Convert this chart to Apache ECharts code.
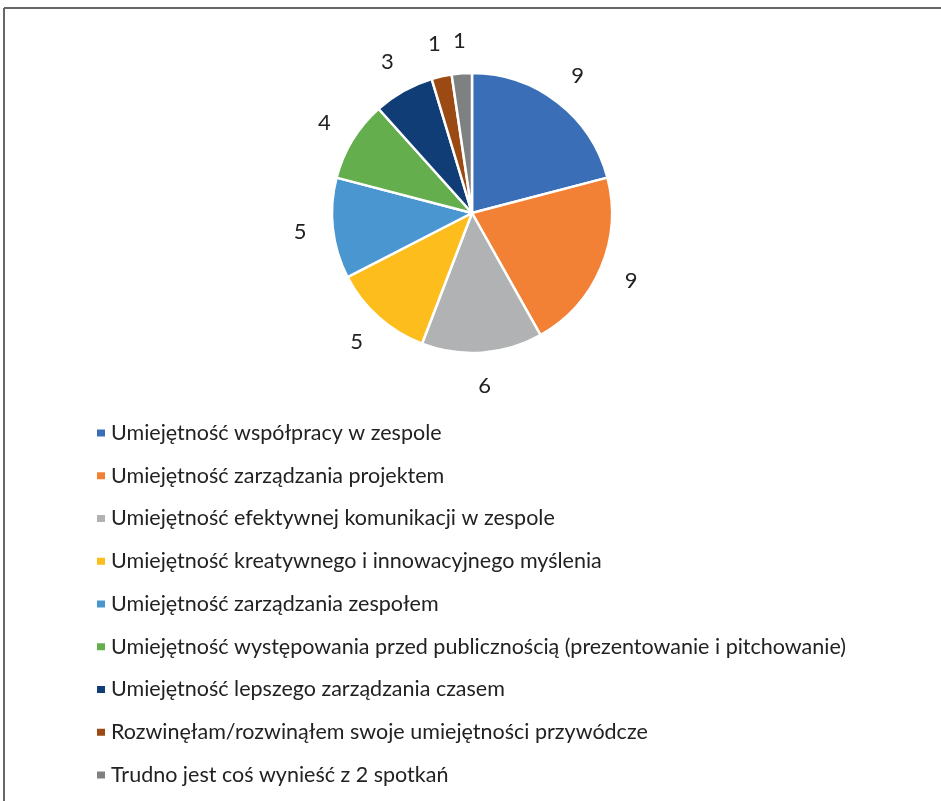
<!DOCTYPE html>
<html>
<head>
<meta charset="utf-8">
<script src="https://cdn.jsdelivr.net/npm/echarts@6/dist/echarts.min.js"></script>
<style>
html,body{margin:0;padding:0;background:#fff;}
#chart{width:941px;height:801px;}
</style>
</head>
<body>
<div id="chart"></div>
<script>
const categories = [
  'Umiejętność współpracy w zespole',
  'Umiejętność zarządzania projektem',
  'Umiejętność efektywnej komunikacji w zespole',
  'Umiejętność kreatywnego i innowacyjnego myślenia',
  'Umiejętność zarządzania zespołem',
  'Umiejętność występowania przed publicznością (prezentowanie i pitchowanie)',
  'Umiejętność lepszego zarządzania czasem',
  'Rozwinęłam/rozwinąłem swoje umiejętności przywódcze',
  'Trudno jest coś wynieść z 2 spotkań'
];
const values = [9, 9, 6, 5, 5, 4, 3, 1, 1];
const colors = ['#3A6FB7','#F28135','#B1B2B4','#FDBD1C','#4A96D1','#65AE4E','#103D75','#9A4A12','#7F8082'];

const FONT = 'Lato';
const mainData = categories.map((c, i) => ({ name: c, value: values[i], itemStyle: { color: colors[i] } }));
const labelData = categories.map((c, i) => ({ name: c, value: values[i] }));

const chart = echarts.init(document.getElementById('chart'), null, { renderer: 'canvas' });
chart.setOption({
  animation: false,
  backgroundColor: '#fff',
  graphic: [
    { type: 'line', shape: { x1: 4, y1: 8, x2: 941, y2: 8 }, style: { stroke: '#666', lineWidth: 2 } },
    { type: 'line', shape: { x1: 4, y1: 8, x2: 4, y2: 801 }, style: { stroke: '#666', lineWidth: 2 } }
  ],
  legend: {
    orient: 'vertical',
    left: 95,
    top: 421,
    padding: 0,
    itemWidth: 10,
    itemHeight: 9,
    itemGap: 18.75,
    icon: 'rect',
    data: categories,
    textStyle: { fontFamily: FONT, fontSize: 21.5, color: '#222', lineHeight: 24 }
  },
  series: [
    {
      type: 'pie',
      center: [472, 213],
      radius: [0, 140],
      startAngle: 90,
      clockwise: true,
      silent: true,
      itemStyle: { borderColor: '#fff', borderWidth: 2.5 },
      label: { show: false },
      labelLine: { show: false },
      data: mainData
    },
    {
      type: 'pie',
      center: [472, 213],
      radius: [158, 182],
      startAngle: 90,
      clockwise: true,
      silent: true,
      itemStyle: { color: 'transparent', borderWidth: 0 },
      label: { show: true, position: 'inside', formatter: '{c}', fontFamily: FONT, fontSize: 22, color: '#222' },
      labelLine: { show: false },
      data: labelData
    }
  ]
});
</script>
</body>
</html>
